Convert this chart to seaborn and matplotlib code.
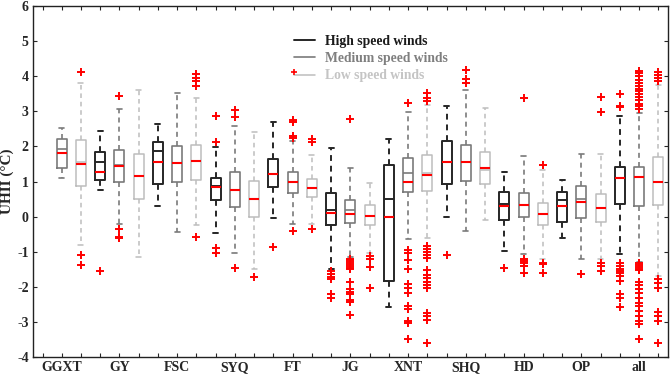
import numpy as np
import pandas as pd
import matplotlib
matplotlib.use("Agg")
import matplotlib.pyplot as plt
from matplotlib.lines import Line2D
from matplotlib.legend_handler import HandlerBase
import seaborn as sns

categories = ['GGXT', 'GY', 'FSC', 'SYQ', 'FT', 'JG', 'XNT', 'SHQ', 'HD', 'OP', 'all']
groups = ['High speed winds', 'Medium speed winds', 'Low speed winds']
nan = np.nan

# High speed winds
high_lo = [nan, 0.77, 0.29, -0.47, -0.04, -1.50, -2.57, 0.00, -0.99, -0.60, -1.07]
high_q1 = [nan, 1.04, 0.93, 0.46, 0.85, -0.23, -1.82, 0.92, -0.09, -0.16, 0.36]
high_med = [nan, 1.27, 1.56, 0.83, 1.22, 0.11, 0.00, 1.55, 0.29, 0.30, 1.11]
high_mean = [nan, 1.57, 1.86, 0.88, 1.22, 0.18, 0.49, 1.55, 0.37, 0.46, 1.11]
high_q3 = [nan, 1.84, 2.14, 1.10, 1.65, 0.66, 1.46, 2.16, 0.69, 0.71, 1.41]
high_hi = [nan, 2.43, 2.64, 1.98, 2.71, 1.96, 2.20, 3.15, 1.26, 1.04, 2.87]
high_fliers = [[], [-1.55], [], [2.87, 2.12, -0.89, -1.04], [-0.87],
               [-1.56, -1.64, -1.71, -1.79, -2.21, -2.33], [], [-1.09], [-1.46], [],
               [3.50, 3.15, 3.11, -1.33, -1.41, -1.48, -1.55, -1.61, -1.70, -1.82, -2.21, -2.33, -2.58]]

# Medium speed winds
med_lo = [1.09, -0.22, -0.43, -1.04, -0.21, -1.16, -0.65, -0.40, -1.07, -1.20, -1.28]
med_q1 = [1.38, 0.99, 0.99, 0.28, 0.66, -0.19, 0.71, 1.02, -0.02, -0.03, 0.31]
med_med = [1.80, 1.44, 1.53, 0.77, 0.98, 0.08, 1.00, 1.56, 0.32, 0.42, 1.13]
med_mean = [1.94, 1.47, 1.53, 0.77, 1.00, 0.18, 1.23, 1.56, 0.34, 0.49, 1.13]
med_q3 = [2.20, 1.89, 2.01, 1.26, 1.27, 0.47, 1.66, 2.05, 0.68, 0.87, 1.42]
med_hi = [2.52, 3.07, 3.52, 2.57, 2.16, 1.38, 2.99, 3.61, 1.73, 1.79, 2.95]
med_fliers = [[], [3.45, -0.36, -0.57, -0.62], [], [3.03, 2.85, -1.47],
              [2.76, 2.71, 2.30, 2.24, -0.41],
              [2.79, -1.20, -1.25, -1.30, -1.35, -1.40, -1.45, -1.50, -1.87, -2.05, -2.14,
               -2.20, -2.37, -2.44, -2.80],
              [3.23, -0.95, -1.04, -1.25, -1.49, -1.93, -2.04, -2.18, -2.56, -2.63, -2.96,
               -3.04, -3.49],
              [4.18, 3.91, 3.80], [3.38, -1.22, -1.26, -1.31, -1.42, -1.60], [-1.63],
              [4.15, 4.09, 4.00, 3.89, 3.80, 3.73, 3.64, 3.57, 3.50, 3.40, 3.31, 3.21, 3.14,
               3.07, -1.33, -1.38, -1.43, -1.48, -1.52, -1.85, -1.95, -2.05, -2.18, -2.33,
               -2.45, -2.56, -2.70, -2.84, -2.98, -3.06, -3.49]]

# Low speed winds
low_lo = [-0.82, -1.15, -0.24, -1.49, -0.21, -1.04, -0.62, -0.09, -1.21, -1.22, -1.70]
low_q1 = [0.87, 0.49, 1.05, 0.00, 0.55, -0.23, 0.73, 0.93, -0.25, -0.15, 0.32]
low_med = [1.51, 1.15, 1.59, 0.50, 0.82, 0.02, 1.19, 1.38, 0.07, 0.24, 1.00]
low_mean = [1.55, 1.15, 1.59, 0.50, 0.82, 0.02, 1.25, 1.33, 0.07, 0.24, 1.00]
low_q3 = [2.17, 1.77, 2.05, 1.01, 1.08, 0.32, 1.75, 1.83, 0.40, 0.64, 1.71]
low_hi = [3.82, 3.61, 3.39, 2.41, 1.75, 0.97, 3.17, 3.09, 1.33, 1.78, 3.74]
low_fliers = [[4.12, -1.08, -1.39], [], [4.05, 3.95, 3.86, 3.72, -0.57], [-1.73],
              [2.20, 2.13, -0.34], [-1.12, -1.22, -1.44, -2.03],
              [3.52, 3.38, 3.30, -0.84, -0.91, -1.00, -1.09, -1.19, -1.52, -1.66, -1.76,
               -1.85, -1.95, -2.04, -2.74, -2.83, -2.94, -3.61],
              [], [1.46, -1.31, -1.36, -1.60], [3.40, 2.98, -1.33, -1.41, -1.54],
              [4.12, 4.03, 3.96, 3.85, -1.79, -1.88, -2.02, -2.72, -2.83, -2.96, -3.61]]

stats = {
    groups[0]: (high_lo, high_q1, high_med, high_q3, high_hi, high_mean, high_fliers),
    groups[1]: (med_lo, med_q1, med_med, med_q3, med_hi, med_mean, med_fliers),
    groups[2]: (low_lo, low_q1, low_med, low_q3, low_hi, low_mean, low_fliers),
}
line_colors = {groups[0]: '#262626', groups[1]: '#7a7a7a', groups[2]: '#bdbdbd'}
text_colors = {groups[0]: '#1a1a1a', groups[1]: '#7f7f7f', groups[2]: '#c4c4c4'}
line_widths = {groups[0]: 1.4, groups[1]: 1.2, groups[2]: 1.1}

sns.set_style('ticks')
plt.rcParams['font.family'] = ['Liberation Serif', 'DejaVu Serif']
plt.rcParams['font.weight'] = 'bold'

fig, ax = plt.subplots(figsize=(6.71, 3.77), dpi=100)
fig.subplots_adjust(left=0.049, right=0.9955, top=0.984, bottom=0.053)

box_w = 0.52
for gi, g in enumerate(groups):
    lo, q1, md, q3, hi, mn, fl = stats[g]
    rows = []
    for ci, cat in enumerate(categories):
        if np.isnan(md[ci]):
            continue
        pos = ci * 3 + gi
        for v in (lo[ci], q1[ci], md[ci], q3[ci], hi[ci]):
            rows.append({'pos': pos, 'val': v})
    df = pd.DataFrame(rows)
    native = np.nanmin(np.diff(np.unique(df['pos'])))
    c = line_colors[g]
    lw = line_widths[g]
    sns.boxplot(data=df, x='pos', y='val', native_scale=True, whis=(0, 100),
                width=box_w / native, fill=False, color=c, linewidth=lw,
                showfliers=False, ax=ax,
                medianprops=dict(color='red', linewidth=1.5),
                whiskerprops=dict(linestyle=(0, (3, 2.5)), color=c, linewidth=lw),
                capprops=dict(color=c, linewidth=lw),
                boxprops=dict(color=c, linewidth=lw))
    # mean line in the box colour
    pos_arr = np.array([ci * 3 + gi for ci in range(len(categories))], dtype=float)
    mn_arr = np.array(mn, dtype=float)
    ok = ~np.isnan(mn_arr)
    ax.hlines(mn_arr[ok], pos_arr[ok] - box_w / 2, pos_arr[ok] + box_w / 2,
              colors=c, linewidth=lw, zorder=1.5)
    # outliers
    frows = []
    for ci in range(len(categories)):
        for v in fl[ci]:
            frows.append({'pos': ci * 3 + gi, 'val': v})
    fdf = pd.DataFrame(frows)
    sns.scatterplot(data=fdf, x='pos', y='val', marker='+', color='red', s=26,
                    linewidth=1.4, legend=False, ax=ax, zorder=3)

n_pos = len(categories) * 3
ax.set_xlim(-0.5, n_pos - 0.5)
ax.set_ylim(-4, 6)
ax.set_xticks(np.arange(n_pos))
labels = []
for p in range(n_pos):
    labels.append(categories[p // 3] if p % 3 == 1 else '')
ax.set_xticklabels(labels, fontsize=10, fontweight='bold')
ax.set_yticks(np.arange(-4, 7, 1))
ax.set_yticklabels([str(v) for v in range(-4, 7)], fontsize=10, fontweight='bold')
ax.tick_params(direction='in', top=True, right=True, length=3, width=0.8, pad=3)
ax.set_xlabel('')
ax.set_ylabel('UHII (°C)', fontsize=11, fontweight='bold', labelpad=2)
for sp in ax.spines.values():
    sp.set_visible(True)
    sp.set_linewidth(1.0)
    sp.set_color('#222222')


class HandlerLinePlus(HandlerBase):
    """Legend line with a red '+' at its left end (as in the original figure)."""
    def create_artists(self, legend, orig_handle, xdescent, ydescent, width, height,
                       fontsize, trans):
        y = height / 2 - ydescent
        line = Line2D([-xdescent, width - xdescent], [y, y],
                      color=orig_handle.get_color(), linewidth=orig_handle.get_linewidth())
        plus = Line2D([-xdescent], [y + 2], marker='+', color='red', markersize=5,
                      markeredgewidth=1.2, linestyle='none')
        line.set_transform(trans)
        plus.set_transform(trans)
        return [line, plus]


handles = [Line2D([], [], color=line_colors[g], linewidth=line_widths[g]) for g in groups]
leg = ax.legend(handles, groups, loc='upper left', bbox_to_anchor=(0.392, 0.952),
                frameon=False, handlelength=1.5, handletextpad=0.8, labelspacing=0.3,
                handler_map={handles[2]: HandlerLinePlus()},
                prop={'family': 'Liberation Serif', 'weight': 'bold', 'size': 9.8})
for t, g in zip(leg.get_texts(), groups):
    t.set_color(text_colors[g])

fig.savefig('out.png', dpi=100)
